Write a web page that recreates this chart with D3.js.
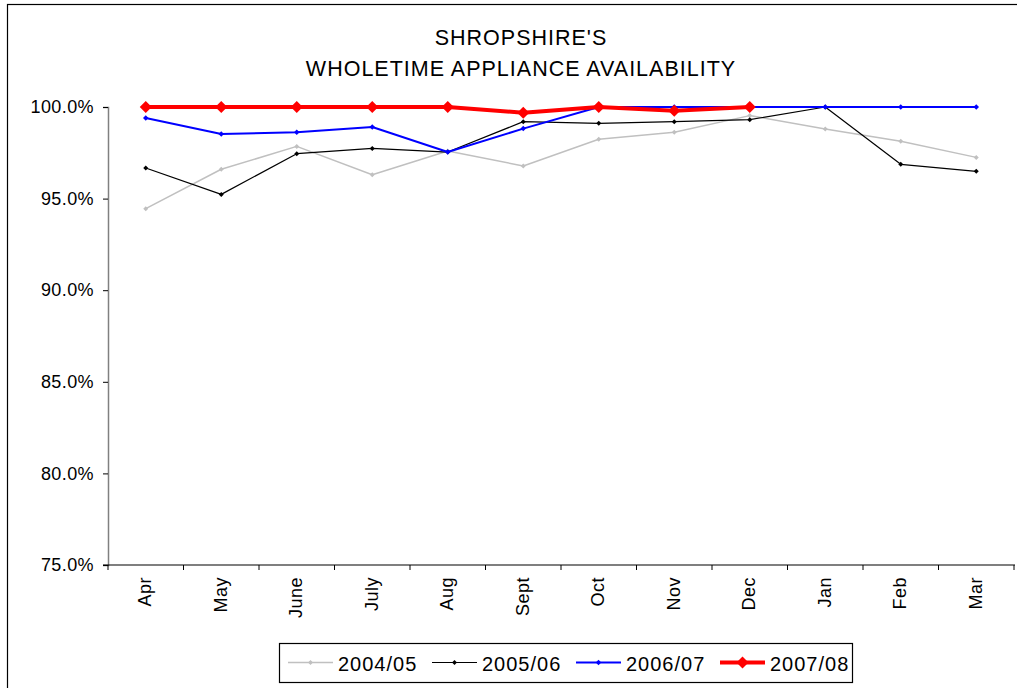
<!DOCTYPE html>
<html>
<head>
<meta charset="utf-8">
<script src="https://cdn.jsdelivr.net/npm/d3@7"></script>
<style>
  html, body { margin: 0; padding: 0; background: #fff; }
  svg { display: block; font-family: "Liberation Sans", Arial, sans-serif; }
</style>
</head>
<body>
<svg id="chart" width="1017" height="688"></svg>
<script>
// Monthly availability (%) per financial year
const months = ["Apr", "May", "June", "July", "Aug", "Sept", "Oct", "Nov", "Dec", "Jan", "Feb", "Mar"];
const seriesNames = ["2004/05", "2005/06", "2006/07", "2007/08"];
const avail0405 = [94.45, 96.6, 97.85, 96.3, 97.6, 96.78, 98.24, 98.62, 99.53, 98.8, 98.13, 97.25];
const avail0506 = [96.67, 95.23, 97.45, 97.74, 97.54, 99.2, 99.11, 99.2, 99.31, 100, 96.87, 96.49];
const avail0607 = [99.4, 98.53, 98.62, 98.91, 97.54, 98.82, 100, 100, 100, 100, 100, 100];
const avail0708 = [100, 100, 100, 100, 100, 99.69, 100, 99.8, 100, null, null, null];
const yTicks = [75, 80, 85, 90, 95, 100];
const titleLines = ["SHROPSHIRE'S", "WHOLETIME APPLIANCE AVAILABILITY"];

const styles = [
  { color: "#c0c0c0", width: 1.5, marker: 5 },
  { color: "#000000", width: 1.2, marker: 5 },
  { color: "#0000ff", width: 2,   marker: 5.5 },
  { color: "#ff0000", width: 4,   marker: 12 }
];
const seriesValues = [avail0405, avail0506, avail0607, avail0708];
const series = seriesNames.map((name, i) => ({ name, values: seriesValues[i], style: styles[i] }));

const svg = d3.select("#chart");

// outer chart frame
svg.append("rect")
  .attr("x", 7.5).attr("y", 4.5)
  .attr("width", 1030).attr("height", 700)
  .attr("fill", "#fff").attr("stroke", "#000").attr("stroke-width", 1.2);

const plot = { left: 108, right: 1014, top: 107, bottom: 565 };

const x = d3.scaleBand().domain(months).range([plot.left, plot.right]);
const y = d3.scaleLinear().domain([75, 100]).range([plot.bottom, plot.top]);

// title
svg.append("g").selectAll("text")
  .data(titleLines)
  .join("text")
  .attr("x", 521)
  .attr("y", (d, i) => 45 + i * 31)
  .attr("text-anchor", "middle")
  .attr("font-size", 21.5)
  .attr("letter-spacing", "1px")
  .attr("fill", "#000")
  .text(d => d);

// y axis
const yAxis = svg.append("g")
  .attr("transform", `translate(${plot.left},0)`)
  .call(d3.axisLeft(y).tickValues(yTicks).tickSize(5).tickPadding(9)
    .tickFormat(d => d3.format(".1f")(d) + "%"));
yAxis.select(".domain").attr("stroke", "#808080").attr("stroke-width", 1.5);
yAxis.selectAll(".tick line").attr("stroke", "#000");
yAxis.selectAll(".tick text")
  .attr("font-size", 18)
  .attr("letter-spacing", "0.4px")
  .attr("fill", "#000")
  .attr("font-family", "'Liberation Sans', Arial, sans-serif");

// x axis: ticks sit on category boundaries
const xAxis = svg.append("g")
  .attr("transform", `translate(0,${plot.bottom})`);
xAxis.append("line")
  .attr("x1", plot.left - 5).attr("x2", plot.right + 1)
  .attr("y1", 0).attr("y2", 0)
  .attr("stroke", "#000").attr("stroke-width", 1.2);
const boundaries = months.map(m => x(m)).concat([x(months[months.length - 1]) + x.bandwidth()]);
xAxis.selectAll("line.tick")
  .data(boundaries)
  .join("line")
  .attr("class", "tick")
  .attr("x1", d => d).attr("x2", d => d)
  .attr("y1", 0).attr("y2", 5)
  .attr("stroke", "#000");
xAxis.selectAll("text")
  .data(months)
  .join("text")
  .attr("transform", d => `translate(${x(d) + x.bandwidth() / 2},12) rotate(-90)`)
  .attr("dy", "0.3em")
  .attr("text-anchor", "end")
  .attr("font-size", 18)
  .attr("letter-spacing", "0.5px")
  .attr("fill", "#000")
  .text(d => d);

// series lines and diamond markers
const cx = i => x(months[i]) + x.bandwidth() / 2;
const line = d3.line()
  .defined(d => d != null)
  .x((d, i) => cx(i))
  .y(d => y(d));

const diamond = (size) => {
  const h = size / 2;
  return `M0,${-h}L${h},0L0,${h}L${-h},0Z`;
};

const gSeries = svg.append("g").selectAll("g")
  .data(series)
  .join("g");

gSeries.append("path")
  .attr("d", d => line(d.values))
  .attr("fill", "none")
  .attr("stroke", d => d.style.color)
  .attr("stroke-width", d => d.style.width)
  .attr("stroke-linejoin", "round");

gSeries.each(function (s) {
  d3.select(this).selectAll("path.mark")
    .data(s.values.map((v, i) => ({ v, i })).filter(p => p.v != null))
    .join("path")
    .attr("class", "mark")
    .attr("transform", p => `translate(${cx(p.i)},${y(p.v)})`)
    .attr("d", diamond(s.style.marker))
    .attr("fill", s.style.color);
});

// legend
const legend = svg.append("g");
legend.append("rect")
  .attr("x", 279.5).attr("y", 643.5)
  .attr("width", 573).attr("height", 39)
  .attr("fill", "#fff").attr("stroke", "#000").attr("stroke-width", 1.2);

const item = legend.selectAll("g.item")
  .data(series)
  .join("g")
  .attr("class", "item")
  .attr("transform", (d, i) => `translate(${288 + i * 144},662.5)`);
item.append("line")
  .attr("x1", 0).attr("x2", 45)
  .attr("stroke", d => d.style.color)
  .attr("stroke-width", d => d.style.width);
item.append("path")
  .attr("transform", "translate(22.5,0)")
  .attr("d", d => diamond(d.style.marker))
  .attr("fill", d => d.style.color);
item.append("text")
  .attr("x", 50).attr("y", 4.5)
  .attr("dy", "0.18em")
  .attr("font-size", 20)
  .attr("letter-spacing", "1px")
  .attr("fill", "#000")
  .text(d => d.name);
</script>
</body>
</html>
